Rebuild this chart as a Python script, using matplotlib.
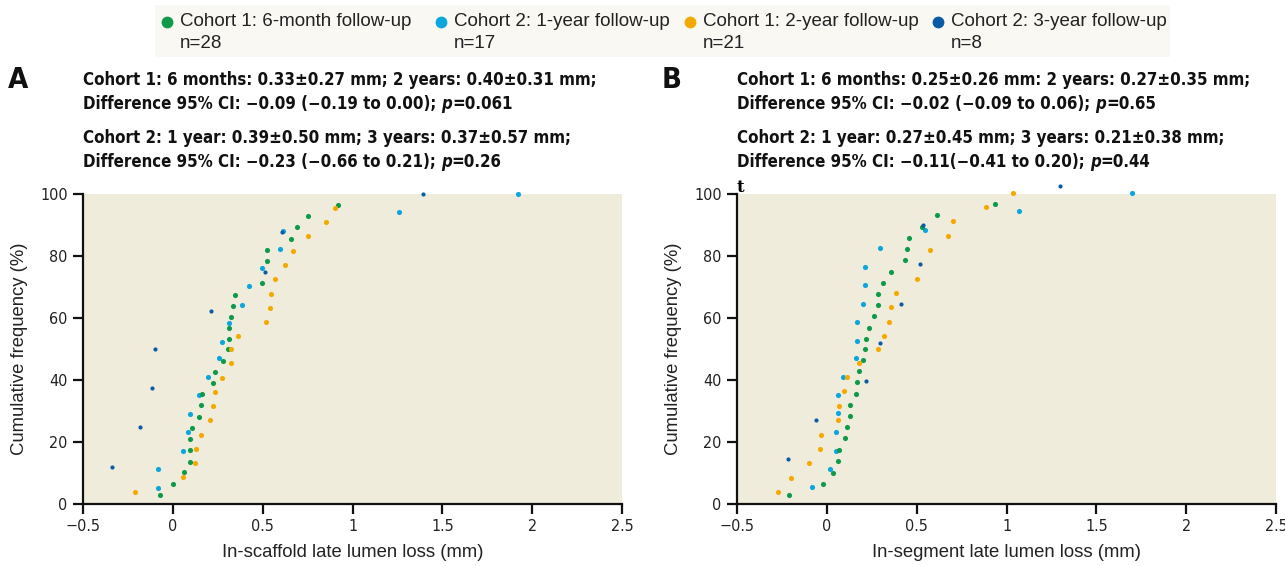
import os
from fnmatch import fnmatch
import numpy as np
import matplotlib
matplotlib.use("Agg")
import matplotlib.pyplot as plt
from matplotlib import font_manager as fm
from matplotlib.font_manager import FontProperties
from matplotlib.patches import Rectangle

# series labels and sizes
series_names = ["Cohort 1: 6-month follow-up", "Cohort 2: 1-year follow-up",
                "Cohort 1: 2-year follow-up", "Cohort 2: 3-year follow-up"]
series_n = [28, 17, 21, 8]
series_colors = ["#0E9A48", "#0AA6DD", "#F2AA00", "#0B5AA5"]

# panel A: in-scaffold late lumen loss (mm) vs cumulative frequency (%)
a_m6_x = [-0.07, 0.00, 0.06, 0.095, 0.095, 0.095, 0.105, 0.145, 0.155, 0.165, 0.225, 0.235, 0.28,
          0.305, 0.315, 0.315, 0.325, 0.335, 0.345, 0.495, 0.525, 0.525, 0.655, 0.69, 0.75, 0.92]
a_m6_y = [2.9, 6.5, 10.2, 13.7, 17.4, 21.0, 24.6, 28.2, 31.8, 35.5, 39.1, 42.7, 46.2,
          49.9, 53.1, 56.7, 60.4, 63.9, 67.5, 71.2, 78.4, 81.9, 85.6, 89.2, 92.9, 96.5]
a_y1_x = [-0.08, -0.08, 0.055, 0.085, 0.095, 0.145, 0.195, 0.255, 0.275, 0.315, 0.385, 0.425,
          0.495, 0.595, 0.615, 1.26, 1.92]
a_y1_y = [5.3, 11.2, 17.2, 23.1, 29.1, 35.1, 41.1, 47.0, 52.4, 58.3, 64.3, 70.3,
          76.2, 82.3, 88.2, 94.1, 100.0]
a_y2_x = [-0.21, 0.055, 0.125, 0.13, 0.155, 0.205, 0.225, 0.235, 0.275, 0.325, 0.325, 0.365,
          0.52, 0.54, 0.545, 0.57, 0.625, 0.67, 0.75, 0.85, 0.90]
a_y2_y = [4.0, 8.6, 13.1, 17.7, 22.4, 27.1, 31.5, 36.1, 40.8, 45.4, 49.9, 54.1,
          58.7, 63.2, 67.8, 72.6, 77.1, 81.7, 86.3, 91.0, 95.5]
a_y3_x = [-0.34, -0.18, -0.115, -0.10, 0.215, 0.515, 0.605, 1.39]
a_y3_y = [12.0, 24.7, 37.3, 50.0, 62.3, 74.7, 87.6, 100.0]

# panel B: in-segment late lumen loss (mm)
b_m6_x = [-0.21, -0.02, 0.035, 0.06, 0.07, 0.10, 0.11, 0.13, 0.13, 0.16, 0.17, 0.18, 0.20, 0.21,
          0.22, 0.235, 0.265, 0.285, 0.285, 0.315, 0.355, 0.435, 0.445, 0.455, 0.53, 0.615, 0.935]
b_m6_y = [3.0, 6.6, 10.1, 13.9, 17.5, 21.2, 24.7, 28.4, 31.9, 35.6, 39.2, 42.8, 46.5, 50.0,
          53.2, 56.9, 60.5, 64.1, 67.7, 71.3, 74.9, 78.6, 82.3, 85.9, 89.5, 93.1, 96.8]
b_y1_x = [-0.08, 0.02, 0.05, 0.05, 0.06, 0.06, 0.09, 0.16, 0.17, 0.17, 0.20, 0.21, 0.21,
          0.295, 0.545, 1.07, 1.70]
b_y1_y = [5.4, 11.3, 17.2, 23.2, 29.2, 35.2, 41.1, 47.1, 52.7, 58.6, 64.5, 70.5, 76.5,
          82.5, 88.5, 94.4, 100.2]
b_y2_x = [-0.27, -0.20, -0.10, -0.04, -0.03, 0.06, 0.07, 0.095, 0.11, 0.18, 0.285, 0.32, 0.345,
          0.355, 0.385, 0.50, 0.575, 0.675, 0.705, 0.885, 1.035]
b_y2_y = [3.9, 8.5, 13.1, 17.7, 22.4, 27.1, 31.6, 36.3, 40.9, 45.5, 50.0, 54.2, 58.8,
          63.4, 68.1, 72.7, 81.9, 86.6, 91.2, 95.8, 100.4]
b_y3_x = [-0.215, -0.06, 0.22, 0.295, 0.415, 0.52, 0.535, 1.30]
b_y3_y = [14.4, 27.1, 39.8, 51.9, 64.6, 77.3, 90.0, 102.6]

x_ticks = [-0.5, 0, 0.5, 1, 1.5, 2, 2.5]
x_tick_labels = ["\u22120.5", "0", "0.5", "1", "1.5", "2", "2.5"]
y_ticks = [0, 20, 40, 60, 80, 100]

header_a = [
    [("Cohort 1: 6 months: 0.33\u00b10.27 mm; 2 years: 0.40\u00b10.31 mm;", "b")],
    [("Difference 95% CI: \u22120.09 (\u22120.19 to 0.00); ", "b"), ("p", "bi"), ("=0.061", "b")],
    [("Cohort 2: 1 year: 0.39\u00b10.50 mm; 3 years: 0.37\u00b10.57 mm;", "b")],
    [("Difference 95% CI: \u22120.23 (\u22120.66 to 0.21); ", "b"), ("p", "bi"), ("=0.26", "b")],
]
header_b = [
    [("Cohort 1: 6 months: 0.25\u00b10.26 mm: 2 years: 0.27\u00b10.35 mm;", "b")],
    [("Difference 95% CI: \u22120.02 (\u22120.09 to 0.06); ", "b"), ("p", "bi"), ("=0.65", "b")],
    [("Cohort 2: 1 year: 0.27\u00b10.45 mm; 3 years: 0.21\u00b10.38 mm;", "b")],
    [("Difference 95% CI: \u22120.11(\u22120.41 to 0.20); ", "b"), ("p", "bi"), ("=0.44", "b")],
]

# narrow / condensed faces among the installed fonts
font_files = {os.path.basename(f.fname).lower(): f.fname for f in fm.fontManager.ttflist}


def find(name):
    return font_files.get(name)


face_sets = []
for b, bi, r in [
    ("liberationsansnarrow-bold.ttf", "liberationsansnarrow-bolditalic.ttf", "liberationsansnarrow-regular.ttf"),
    ("notosans-extracondensedbold.ttf", "notosans-extracondensedbolditalic.ttf", "notosans-extracondensed.ttf"),
    ("notosans-condensedbold.ttf", "notosans-condensedbolditalic.ttf", "notosans-condensed.ttf"),
    ("dejavusanscondensed-bold.ttf", "dejavusanscondensed-boldoblique.ttf", "dejavusanscondensed.ttf"),
    ("robotocondensed-bold.ttf", "robotocondensed-bolditalic.ttf", "robotocondensed-regular.ttf"),
]:
    if find(b):
        face_sets.append({"b": find(b), "bi": find(bi) or find(b), "r": find(r) or find(b)})
if not face_sets:
    for base, path in sorted(font_files.items()):
        if fnmatch(base, "*condensed*bold.ttf") and "italic" not in base:
            face_sets.append({"b": path, "bi": path, "r": path})
            break

W, H = 1285, 566
fig = plt.figure(figsize=(W / 100, H / 100), dpi=100)
fig.patch.set_facecolor("white")
renderer = fig.canvas.get_renderer()


def make_font(faces, kind, size):
    if faces:
        return FontProperties(fname=faces[kind], size=size)
    spec = {"b": dict(weight="bold"), "bi": dict(weight="bold", style="italic"), "r": {}}[kind]
    return FontProperties(family="Roboto", size=size, **spec)


def text_width(s, fp):
    t = fig.text(0, 0, s, fontproperties=fp)
    w = t.get_window_extent(renderer).width
    t.remove()
    return w


# pick the face whose size, when the first header line spans ~514 px, is closest to 13.5 pt
best = None
for faces in face_sets or [None]:
    size = 13.5 * 514 / text_width(header_a[0][0][0], make_font(faces, "b", 13.5))
    if best is None or abs(size - 13.5) < abs(best[1] - 13.5):
        best = (faces, size)
cond_faces, head_size = best
head_size = min(head_size, 15)


def cfont(kind, size):
    return make_font(cond_faces, kind, size)


plain = "Liberation Sans"


def fx(px):
    return px / W


def fy(py):
    return 1 - py / H


def draw_runs(x, y, parts):
    for s, kind in parts:
        t = fig.text(fx(x), fy(y), s, fontproperties=cfont(kind, head_size), va="center",
                     color="#111111")
        x += t.get_window_extent(renderer).width


def panel(left, xs, ys, xlabel, letter, header):
    ax = fig.add_axes([fx(left), fy(504), fx(539), 310 / H])
    ax.set_facecolor("#F0ECDB")
    for i in [1, 0, 2, 3]:
        size = 3.0 if i == 3 else 3.7
        ax.plot(xs[i], ys[i], "o", ms=size, mew=0, color=series_colors[i], clip_on=False, zorder=3)
    ax.set_xlim(-0.5, 2.5)
    ax.set_ylim(0, 100)
    for s in ["top", "right"]:
        ax.spines[s].set_visible(False)
    for s in ["left", "bottom"]:
        ax.spines[s].set_linewidth(1.6)
        ax.spines[s].set_color("#111111")
    ax.set_xticks(x_ticks)
    ax.set_xticklabels(x_tick_labels)
    ax.set_yticks(y_ticks)
    ax.tick_params(length=7, width=1.6, pad=4, color="#111111")
    for lab in ax.get_xticklabels() + ax.get_yticklabels():
        lab.set_fontproperties(cfont("r", 11.5))
        lab.set_color("#222222")
    ax.set_xlabel(xlabel, family=plain, fontsize=13.3, labelpad=7, color="#222222")
    ax.set_ylabel("Cumulative frequency (%)", family=plain, fontsize=13.3, labelpad=9,
                  color="#222222")

    fig.text(fx(left - 65), fy(80), letter, fontproperties=cfont("b", 21), va="center",
             ha="center", color="#111111")
    for row, yy in zip(header, [80, 104, 138, 162]):
        draw_runs(left, yy, row)
    return ax


panel(83, [a_m6_x, a_y1_x, a_y2_x, a_y3_x], [a_m6_y, a_y1_y, a_y2_y, a_y3_y],
      "In-scaffold late lumen loss (mm)", "A", header_a)
panel(737, [b_m6_x, b_y1_x, b_y2_x, b_y3_x], [b_m6_y, b_y1_y, b_y2_y, b_y3_y],
      "In-segment late lumen loss (mm)", "B", header_b)

# stray glyph above panel B's y axis
fig.text(fx(740), fy(187), "t", family="DejaVu Serif", weight="bold", fontsize=12,
         ha="center", va="center")

# legend strip across the top
lay = fig.add_axes([0, 0, 1, 1], zorder=-1)
lay.set_xlim(0, W)
lay.set_ylim(H, 0)
lay.axis("off")
lay.add_patch(Rectangle((155, 5), 1015, 52, facecolor="#F9F8F3", edgecolor="none"))
for name, n, col, x0 in zip(series_names, series_n, series_colors, [167, 441, 690, 938]):
    lay.plot([x0], [22], "o", ms=8.5, mew=0, color=col)
    lay.text(x0 + 13, 22, name, family=plain, fontsize=13.5, va="center", color="#222222")
    lay.text(x0 + 13, 44, "n=%d" % n, family=plain, fontsize=13.5, va="center", color="#222222")

fig.savefig("out.png", dpi=100)
